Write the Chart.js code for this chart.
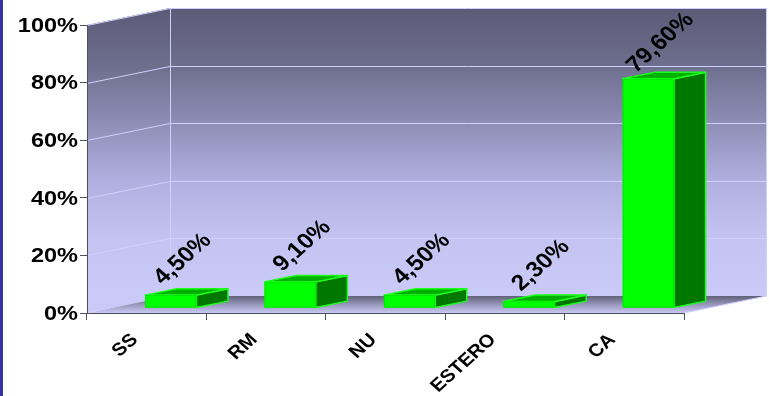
<!DOCTYPE html>
<html>
<head>
<meta charset="utf-8">
<script src="https://cdn.jsdelivr.net/npm/chart.js@4.4.1/dist/chart.umd.min.js"></script>
<style>
  html, body { margin: 0; padding: 0; background: #ffffff; }
  canvas { display: block; }
</style>
</head>
<body>
<canvas id="chart" width="769" height="396"></canvas>
<script>
// Distribution by category (percent)
const categories = ['SS', 'RM', 'NU', 'ESTERO', 'CA'];
const shares = [4.5, 9.1, 4.5, 2.3, 79.6];
const valueLabels = ['4,50%', '9,10%', '4,50%', '2,30%', '79,60%'];
const yTickValues = [0, 20, 40, 60, 80, 100];
const yTickLabels = ['0%', '20%', '40%', '60%', '80%', '100%'];

// 3D box look: back plane offset and the depth slice the bars occupy
const depth = { dx: 83, dy: -17, front: 0.29, back: 0.67 };
const textStretch = 1.12;
const FONT = '"Liberation Sans", Arial, sans-serif';

function poly(ctx, pts) {
  ctx.beginPath();
  ctx.moveTo(pts[0][0], pts[0][1]);
  for (let i = 1; i < pts.length; i++) ctx.lineTo(pts[i][0], pts[i][1]);
  ctx.closePath();
}

const box3d = {
  id: 'box3d',
  beforeDraw(chart) {
    const { ctx, chartArea: a, scales: { y } } = chart;
    const L = a.left, R = a.right, T = a.top, B = a.bottom;
    const dx = depth.dx, dy = depth.dy;
    ctx.save();

    // left frame stripe
    ctx.fillStyle = '#3333a6';
    ctx.fillRect(0, 0, 3, chart.height);

    const wall = ctx.createLinearGradient(0, T + dy, 0, B + dy);
    wall.addColorStop(0, '#5b5b77');
    wall.addColorStop(0.2, '#6e6e8e');
    wall.addColorStop(0.4, '#8e8eb6');
    wall.addColorStop(0.6, '#b0b0e0');
    wall.addColorStop(0.8, '#c4c4f2');
    wall.addColorStop(1, '#cacaf8');

    // back wall
    ctx.fillStyle = wall;
    ctx.fillRect(L + dx, T + dy, R - L, B - T);
    // side wall
    poly(ctx, [[L, T], [L + dx, T + dy], [L + dx, B + dy], [L, B]]);
    ctx.fill();

    // floor
    const floor = ctx.createLinearGradient(0, B + dy, 0, B);
    floor.addColorStop(0, '#606078');
    floor.addColorStop(0.5, '#9898bc');
    floor.addColorStop(1, '#c8c8f2');
    ctx.fillStyle = floor;
    poly(ctx, [[L, B], [L + dx, B + dy], [R + dx, B + dy], [R, B]]);
    ctx.fill();

    // gridlines on side and back walls
    ctx.strokeStyle = '#d0d0ff';
    ctx.lineWidth = 1;
    yTickValues.forEach(v => {
      if (v === 0) return;
      const py = Math.round(y.getPixelForValue(v)) + 0.5;
      ctx.beginPath();
      ctx.moveTo(L, py);
      ctx.lineTo(L + dx, py + dy);
      ctx.lineTo(R + dx, py + dy);
      ctx.stroke();
    });
    // wall edges
    ctx.beginPath();
    ctx.moveTo(L + dx + 0.5, T + dy);
    ctx.lineTo(L + dx + 0.5, B + dy);
    ctx.moveTo(R + dx - 0.5, T + dy);
    ctx.lineTo(R + dx - 0.5, B + dy);
    ctx.lineTo(R, B);
    ctx.stroke();
    ctx.restore();
  },
  afterDatasetsDraw(chart) {
    const { ctx } = chart;
    const meta = chart.getDatasetMeta(0);
    const fx = depth.front * depth.dx, fy = depth.front * depth.dy;
    const bx = (depth.back - depth.front) * depth.dx;
    const by = (depth.back - depth.front) * depth.dy;
    ctx.save();
    ctx.lineJoin = 'round';
    meta.data.forEach((bar, i) => {
      const p = bar.getProps(['x', 'y', 'base', 'width'], true);
      const l = p.x - p.width / 2 + fx, r = p.x + p.width / 2 + fx;
      const t = p.y + fy, b = p.base + fy;
      // side face
      poly(ctx, [[r, t], [r + bx, t + by], [r + bx, b + by], [r, b]]);
      ctx.fillStyle = '#007800';
      ctx.fill();
      ctx.strokeStyle = '#1cff1c';
      ctx.lineWidth = 1.5;
      ctx.stroke();
      // top face
      poly(ctx, [[l, t], [l + bx, t + by], [r + bx, t + by], [r, t]]);
      ctx.fillStyle = '#00b000';
      ctx.fill();
      ctx.stroke();
      // front face
      ctx.fillStyle = '#00ff00';
      ctx.fillRect(l, t, r - l, b - t);
      ctx.strokeStyle = '#00e800';
      ctx.lineWidth = 1;
      ctx.strokeRect(l + 0.5, t + 0.5, r - l - 1, b - t - 1);

      // value label
      ctx.save();
      ctx.translate((l + r) / 2 + 12, t - 36);
      ctx.scale(textStretch, 1);
      ctx.rotate(-Math.PI / 4);
      ctx.fillStyle = '#000000';
      ctx.font = 'bold 22px ' + FONT;
      ctx.textAlign = 'center';
      ctx.textBaseline = 'middle';
      ctx.fillText(valueLabels[i], 0, 0);
      ctx.restore();
    });
    ctx.restore();
  },
  afterDraw(chart) {
    const { ctx, scales: { x, y } } = chart;
    ctx.save();
    ctx.fillStyle = '#000000';
    // value axis labels
    ctx.font = 'bold 21px ' + FONT;
    ctx.textAlign = 'right';
    ctx.textBaseline = 'middle';
    yTickValues.forEach((v, i) => {
      ctx.save();
      ctx.translate(y.right - 9, y.getPixelForValue(v) + 1);
      ctx.scale(textStretch, 1);
      ctx.fillText(yTickLabels[i], 0, 0);
      ctx.restore();
    });
    // category labels
    ctx.font = 'bold 18px ' + FONT;
    categories.forEach((c, i) => {
      ctx.save();
      ctx.translate(x.getPixelForValue(i) - 12, x.top + 24);
      ctx.scale(textStretch, 1);
      ctx.rotate(-Math.PI / 4);
      ctx.fillText(c, 0, 0);
      ctx.restore();
    });
    ctx.restore();
  }
};

new Chart(document.getElementById('chart'), {
  type: 'bar',
  data: {
    labels: categories,
    datasets: [{
      data: shares,
      backgroundColor: 'rgba(0,0,0,0)',
      borderWidth: 0,
      barPercentage: 0.43,
      categoryPercentage: 1
    }]
  },
  options: {
    responsive: false,
    animation: false,
    events: [],
    layout: { padding: { left: 0, top: 25, right: 85, bottom: 0 } },
    plugins: { legend: { display: false }, tooltip: { enabled: false } },
    scales: {
      x: {
        grid: { offset: true, drawOnChartArea: false, tickLength: 7, color: '#505060' },
        border: { color: '#505060', width: 1 },
        ticks: { display: false },
        afterFit(s) { s.height = 83; }
      },
      y: {
        min: 0,
        max: 100,
        ticks: { stepSize: 20, display: false },
        grid: { drawOnChartArea: false, tickLength: 7, color: '#505060' },
        border: { color: '#505060', width: 1 },
        afterFit(s) { s.width = 87; }
      }
    }
  },
  plugins: [box3d]
});
</script>
</body>
</html>
